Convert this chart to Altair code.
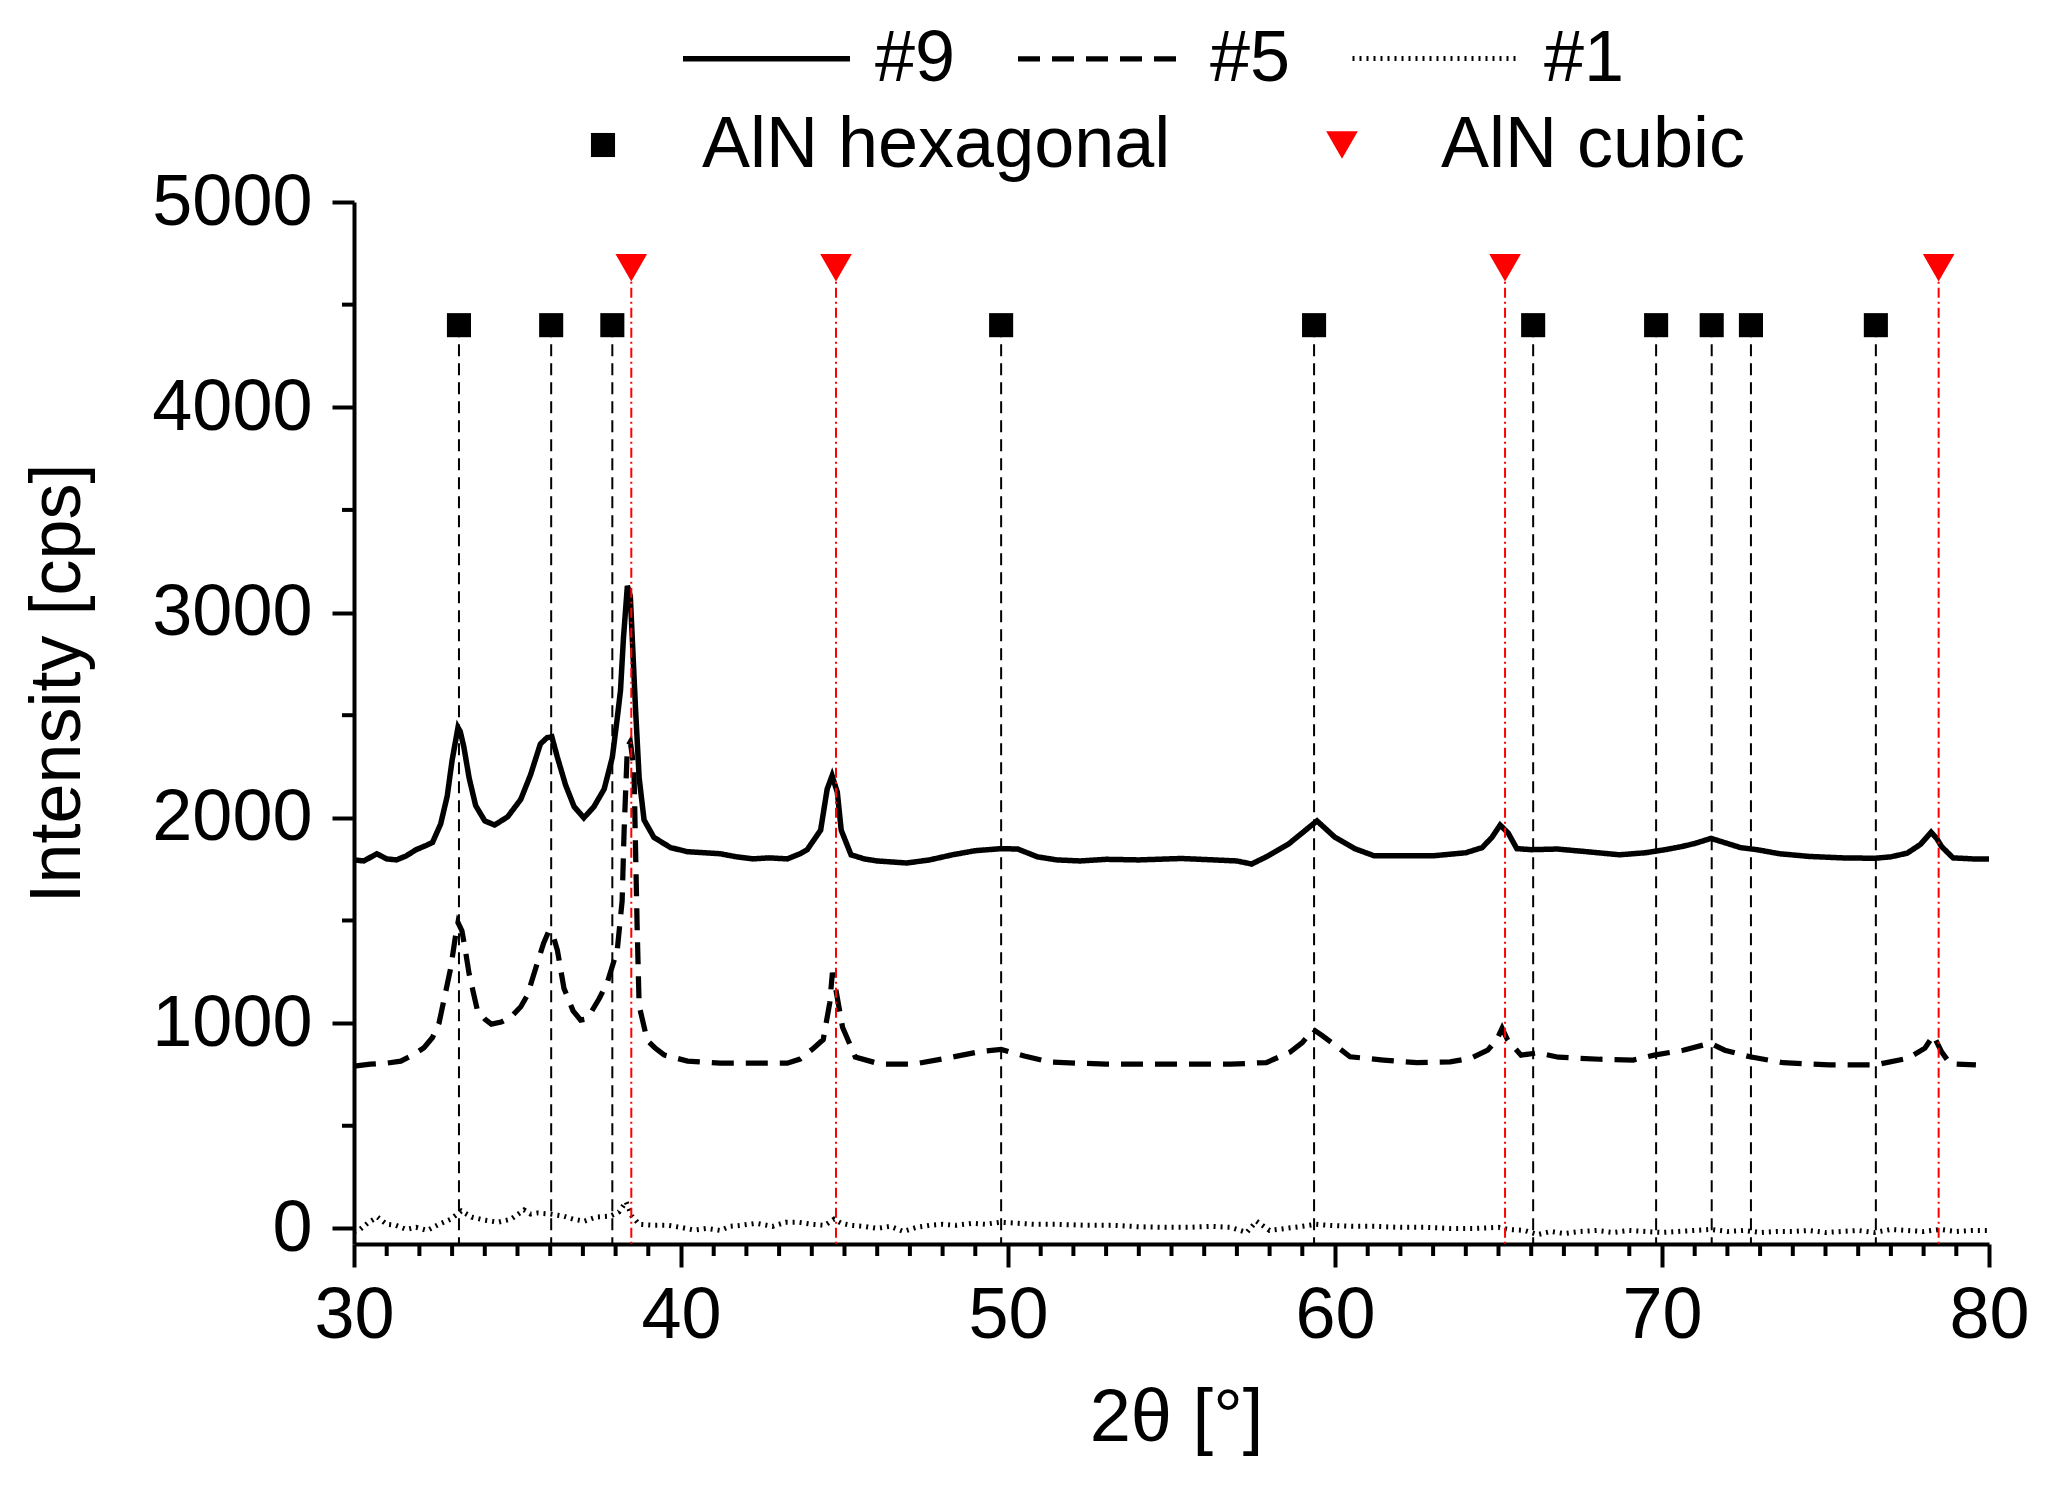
import altair as alt
import pandas as pd

# ---- data ----
series_names = ["#9", "#5", "#1"]
phase_names = ["AlN hexagonal", "AlN cubic"]

x9 = [30.0, 30.3, 30.7, 31.0, 31.3, 31.6, 31.9, 32.2, 32.4, 32.65, 32.85, 33.0, 33.18, 33.25, 33.36,
      33.52, 33.72, 34.0, 34.3, 34.7, 35.1, 35.4, 35.7, 35.9, 36.05, 36.22, 36.47, 36.73, 37.03, 37.34,
      37.65, 37.9, 38.05, 38.15, 38.24, 38.36, 38.45, 38.51, 38.61, 38.72, 38.87, 39.17, 39.68, 40.2,
      40.7, 41.2, 41.7, 42.2, 42.7, 43.25, 43.64, 43.86, 44.27, 44.47, 44.62, 44.78, 44.9, 45.2, 45.6,
      46.0, 46.9, 47.6, 48.3, 49.0, 49.8, 50.3, 50.9, 51.5, 52.2, 53.0, 54.0, 55.3, 56.3, 57.0, 57.45,
      57.9, 58.6, 59.1, 59.45, 60.0, 60.6, 61.2, 62.0, 63.0, 64.0, 64.5, 64.8, 65.05, 65.3, 65.56, 66.0,
      66.8, 67.7, 68.7, 69.5, 70.1, 70.6, 71.0, 71.5, 72.0, 72.4, 72.9, 73.6, 74.5, 75.5, 76.5, 77.0,
      77.5, 77.9, 78.23, 78.4, 78.55, 78.9, 79.5, 80.0]
y9 = [1795, 1790, 1825, 1800, 1795, 1815, 1845, 1865, 1880, 1970, 2105, 2280, 2440, 2420, 2345,
      2195, 2060, 1985, 1965, 2005, 2090, 2210, 2360, 2390, 2395, 2295, 2160, 2055, 2000, 2055,
      2140, 2295, 2485, 2620, 2875, 3130, 3080, 2875, 2530, 2195, 1990, 1905, 1855, 1835,
      1830, 1825, 1810, 1800, 1805, 1800, 1825, 1845, 1940, 2140, 2205, 2125, 1940, 1820, 1800,
      1790, 1780, 1795, 1820, 1840, 1850, 1848, 1810, 1795, 1790, 1798, 1795, 1802, 1795, 1790, 1775,
      1810, 1875, 1940, 1985, 1905, 1850, 1815, 1815, 1815, 1830, 1855, 1905, 1965, 1925, 1850, 1845,
      1848, 1835, 1820, 1830, 1845, 1860, 1875, 1900, 1875, 1855, 1845, 1825, 1812, 1805, 1803, 1810,
      1828, 1870, 1930, 1900, 1860, 1805, 1800, 1800]

x5 = [30.0, 30.5, 31.0, 31.43, 31.8, 32.14, 32.4, 32.6, 32.8, 32.96, 33.1, 33.18, 33.3, 33.4, 33.52,
      33.77, 34.0, 34.2, 34.5, 34.8, 35.1, 35.3, 35.6, 35.8, 35.96, 36.1, 36.22, 36.42, 36.7, 36.93,
      37.1, 37.24, 37.5, 37.75, 38.05, 38.2, 38.26, 38.36, 38.45, 38.56, 38.61, 38.66, 38.72, 38.97,
      39.2, 39.48, 40.2, 41.2, 42.2, 43.25, 43.64, 44.07, 44.35, 44.55, 44.63, 44.75, 44.94, 45.33,
      46.1, 47.1, 48.32, 49.1, 49.79, 50.5, 51.28, 53.0, 54.9, 56.8, 57.9, 58.62, 59.0, 59.33, 59.6,
      59.9, 60.46, 61.48, 62.5, 63.52, 64.16, 64.67, 64.95, 65.11, 65.28, 65.69, 66.2, 66.83, 68.1,
      69.12, 69.76, 70.65, 71.48, 71.92, 72.69, 73.71, 75.11, 76.51, 77.53, 78.04, 78.3, 78.55, 78.81,
      79.6]
y5 = [790, 800, 805, 815, 845, 880, 930, 1000, 1150, 1270, 1420, 1490, 1450, 1360, 1240,
      1065, 1020, 995, 1005, 1030, 1080, 1135, 1290, 1390, 1450, 1420, 1355, 1170, 1060, 1015,
      1020, 1050, 1120, 1200, 1355, 1595, 1935, 2345, 2370, 2245, 1850, 1460, 1085, 915,
      880, 845, 815, 805, 805, 805, 825, 880, 920, 1100, 1245, 1150, 980, 835,
      800, 800, 835, 860, 872, 840, 810, 800, 800, 800, 808, 858, 905, 970, 940,
      905, 836, 820, 807, 811, 829, 868, 920, 975, 917, 844, 855, 834, 824,
      820, 844, 868, 902, 868, 836, 807, 796, 796, 829, 878, 941, 860, 802,
      796]

x1 = [30.0, 30.16, 30.45, 30.72, 31.0, 31.28, 31.6, 31.9, 32.24, 32.6, 32.96, 33.28, 33.6, 34.0, 34.4,
      34.8, 35.2, 35.4, 35.6, 36.0, 36.4, 36.7, 37.04, 37.4, 37.84, 38.1, 38.32, 38.5, 38.72, 39.2,
      39.6, 40.0, 40.4, 40.8, 41.2, 41.5, 41.84, 42.3, 42.8, 43.2, 43.6, 44.0, 44.4, 44.68, 44.9,
      45.2, 45.6, 46.0, 46.4, 46.8, 47.2, 47.6, 48.0, 48.4, 48.9, 49.3, 49.75, 50.3, 50.8, 51.5,
      52.4, 53.2, 54.0, 54.8, 55.5, 56.2, 56.8, 57.3, 57.6, 58.0, 58.5, 59.0, 59.4, 59.8, 60.5,
      61.2, 62.0, 62.8, 63.5, 64.3, 65.0, 65.3, 65.8, 66.2, 66.6, 67.0, 67.5, 68.0, 68.5, 69.0,
      69.5, 70.0, 70.5, 71.0, 71.5, 72.0, 72.5, 73.0, 73.5, 74.0, 74.5, 75.0, 75.5, 76.0, 76.5,
      77.0, 77.5, 78.0, 78.5, 79.0, 79.5, 80.0]
y1 = [-15, -8, 30, 55, 20, 15, -5, 5, -10, 20, 45, 85, 55, 40, 30,
      45, 90, 70, 75, 70, 60, 45, 35, 55, 60, 80, 130, 60, 20, 15,
      15, 5, -8, 0, -10, 10, 15, 25, 10, 30, 30, 20, 15, 45, 25,
      15, 10, 0, 10, -15, 5, 15, 20, 15, 25, 20, 30, 25, 20, 20,
      15, 15, 8, 5, 5, 10, 5, -20, 35, -10, 0, 10, 20, 15, 10,
      10, 5, 5, 0, 0, 5, -5, -10, -30, -15, -25, -15, -10, -20, -10,
      -15, -20, -15, -10, -5, -15, -10, -20, -15, -15, -10, -20, -15, -10, -20,
      -5, -10, -15, -5, -15, -10, -10]

hex_pos = [33.21, 36.03, 37.9, 49.79, 59.36, 66.06, 69.82, 71.52, 72.72, 76.54]
cub_pos = [38.48, 44.74, 65.2, 78.46]
hex_marker_y = 4400
cub_marker_y = 4680
y_bottom = -76

x_major = [30, 40, 50, 60, 70, 80]
x_minor = [31, 32, 33, 34, 35, 36, 37, 38, 39, 41, 42, 43, 44, 45, 46, 47, 48, 49,
           51, 52, 53, 54, 55, 56, 57, 58, 59, 61, 62, 63, 64, 65, 66, 67, 68, 69,
           71, 72, 73, 74, 75, 76, 77, 78, 79]
y_major = [0, 1000, 2000, 3000, 4000, 5000]
y_minor = [500, 1500, 2500, 3500, 4500]

# ---- tables ----
curves = pd.concat([
    pd.DataFrame({"x": x9, "y": y9, "series": "#9"}),
    pd.DataFrame({"x": x5, "y": y5, "series": "#5"}),
    pd.DataFrame({"x": x1, "y": y1, "series": "#1"}),
])
hex_df = pd.DataFrame({"x": hex_pos, "y": hex_marker_y, "bottom": y_bottom})
cub_df = pd.DataFrame({"x": cub_pos, "y": cub_marker_y, "bottom": y_bottom})
markers = pd.concat([
    pd.DataFrame({"x": hex_pos, "y": hex_marker_y, "phase": "AlN hexagonal"}),
    pd.DataFrame({"x": cub_pos, "y": cub_marker_y, "phase": "AlN cubic"}),
])
xminor_df = pd.DataFrame({"x": x_minor})
yminor_df = pd.DataFrame({"y": y_minor})

FONT = "Liberation Sans"
W, H = 1635, 1042

xscale = alt.Scale(domain=[30, 80], nice=False, zero=False)
yscale = alt.Scale(domain=[y_bottom, 5000], nice=False, zero=False)

x_axis = alt.Axis(values=x_major, format="d", tickSize=23, tickWidth=4, domainWidth=4,
                  domainColor="black", tickColor="black", labelFont=FONT, labelFontSize=72,
                  labelColor="black", labelPadding=13, labelFlush=False, grid=False,
                  title="2θ [°]", titleFont=FONT, titleFontSize=74, titleFontWeight="normal",
                  titleColor="black", titleBaseline="alphabetic", titleY=196, titleX=822)
y_axis = alt.Axis(values=y_major, format="d", tickSize=22, tickWidth=4, domainWidth=4,
                  domainColor="black", tickColor="black", labelFont=FONT, labelFontSize=72,
                  labelColor="black", labelPadding=20, labelLimit=400, grid=False,
                  title="Intensity [cps]", titleFont=FONT, titleFontSize=72,
                  titleFontWeight="normal", titleColor="black", titleAngle=270,
                  titleAlign="center", titleBaseline="alphabetic", titleX=-275, titleY=481)

X = alt.X("x:Q", scale=xscale, axis=x_axis)
Y = alt.Y("y:Q", scale=yscale, axis=y_axis)

leg1 = alt.Legend(title=None, orient="none", legendX=326, legendY=-230, direction="horizontal",
                  symbolType="stroke", symbolSize=27889, symbolStrokeColor="black",
                  labelFont=FONT, labelFontSize=72, labelColor="black", labelOffset=22,
                  columnPadding=51, padding=0, labelLimit=1000)
leg2 = alt.Legend(title=None, orient="none", legendX=213, legendY=-93, direction="horizontal",
                  labelFont=FONT, labelFontSize=72, labelColor="black", labelOffset=63,
                  columnPadding=135, padding=0, labelLimit=1000, symbolStrokeWidth=0)

lines = alt.Chart(curves).mark_line(color="black").encode(
    x=X, y=Y,
    strokeDash=alt.StrokeDash("series:N", scale=alt.Scale(domain=series_names,
                              range=[[1, 0], [22, 12], [2, 5]]), legend=leg1),
    strokeWidth=alt.StrokeWidth("series:N", scale=alt.Scale(domain=series_names,
                                range=[5.5, 5, 1.8]), legend=leg1),
)

hex_rules = alt.Chart(hex_df).mark_rule(color="black", strokeWidth=2, strokeDash=[12, 7]).encode(
    x=X, y=Y, y2="bottom:Q",
)
cub_rules = alt.Chart(cub_df).mark_rule(color="red", strokeWidth=2, strokeDash=[10, 4, 2, 4]).encode(
    x=X, y=Y, y2="bottom:Q",
)

points = alt.Chart(markers).mark_point(filled=True, opacity=1, strokeWidth=0).encode(
    x=X, y=Y,
    shape=alt.Shape("phase:N", scale=alt.Scale(domain=phase_names,
                    range=["square", "triangle-down"]), legend=leg2),
    color=alt.Color("phase:N", scale=alt.Scale(domain=phase_names, range=["black", "red"]),
                    legend=leg2),
    size=alt.Size("phase:N", scale=alt.Scale(domain=phase_names, range=[580, 1000]),
                  legend=leg2),
)

xminor = alt.Chart(xminor_df).mark_rule(color="black", strokeWidth=4).encode(
    x=X,
    y=alt.value(H),
    y2=alt.value(H + 12),
)
yminor = alt.Chart(yminor_df).mark_rule(color="black", strokeWidth=4).encode(
    y=Y,
    x=alt.value(0),
    x2=alt.value(-12),
)

chart = alt.layer(lines, hex_rules, cub_rules, points, xminor, yminor).properties(
    width=W, height=H,
    padding={"left": 346, "top": 194, "right": 52, "bottom": 235},
    autosize=alt.AutoSizeParams(type="none"),
    background="white",
).configure_view(strokeWidth=0)

chart.save("out.html", embed_options={"renderer": "svg", "actions": False})
